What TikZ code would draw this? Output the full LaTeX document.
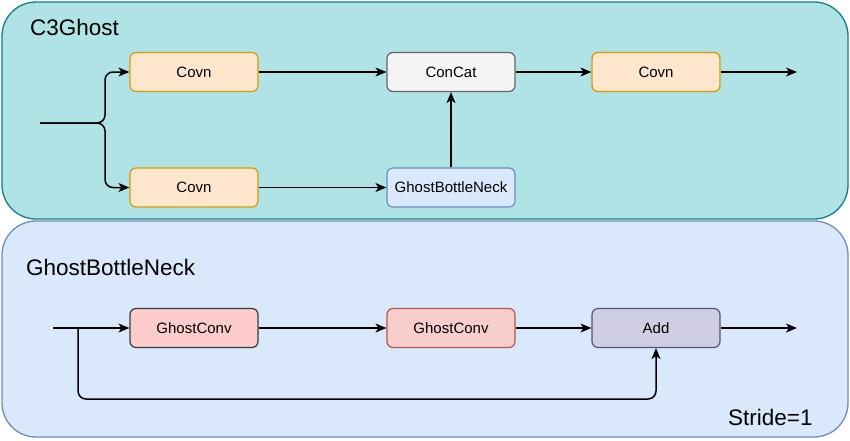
\documentclass[tikz,border=0pt]{standalone}
\usepackage{fontspec}
\setmainfont{Liberation Sans}
\usetikzlibrary{arrows.meta}
\definecolor{tealfill}{HTML}{B0E3E6}
\definecolor{tealline}{HTML}{0E8088}
\definecolor{bluefill}{HTML}{DAE8FC}
\definecolor{blueline}{HTML}{6C8EBF}
\definecolor{orfill}{HTML}{FFE6CC}
\definecolor{orline}{HTML}{D79B00}
\definecolor{grfill}{HTML}{F5F5F5}
\definecolor{grline}{HTML}{666666}
\definecolor{rdfill}{HTML}{FFCCCC}
\definecolor{rdline}{HTML}{36393D}
\definecolor{rd2fill}{HTML}{F8CECC}
\definecolor{rd2line}{HTML}{B85450}
\definecolor{pufill}{HTML}{D0CEE2}
\definecolor{puline}{HTML}{56517E}
\tikzset{
  x=1pt,y=-1pt,
  container/.style={rounded corners=34pt,line width=1.3pt},
  blk/.style={draw,rounded corners=6pt,minimum width=128pt,minimum height=39pt,inner sep=0pt,line width=1.2pt,font=\fontsize{15}{18}\selectfont},
  title/.style={anchor=west,inner sep=0pt,font=\fontsize{22.5}{27}\selectfont},
  conn/.style={line width=1.5pt,-{Stealth[length=11pt,width=9pt,inset=3pt]}}
}
\begin{document}
\begin{tikzpicture}
\useasboundingbox (0,0) rectangle (850,440);
\draw[container,fill=tealfill,draw=tealline] (2,2) rectangle (848,219);
\draw[container,fill=bluefill,draw=blueline] (2,221) rectangle (848,437);
\node[title] (t1) at (30,27) {C3Ghost};
\node[title] (t2) at (26,267) {GhostBottleNeck};
\node[title] (t3) at (728,417) {Stride=1};
% top
\node[blk,fill=orfill,draw=orline] (c1) at (194,72) {Covn};
\node[blk,fill=orfill,draw=orline] (c2) at (194,187.5) {Covn};
\node[blk,fill=grfill,draw=grline] (cc) at (451,72) {ConCat};
\node[blk,fill=bluefill,draw=blueline] (gb) at (451,187.5) {GhostBottleNeck};
\node[blk,fill=orfill,draw=orline] (c3) at (656,72) {Covn};
\coordinate (in1) at (40,123);
\coordinate (out1) at (797,72);
\coordinate (br) at (105,123);
\draw[conn,rounded corners=8pt] (in1) -- (br) -- (br |- c1) -- (c1.west);
\draw[conn,rounded corners=8pt] (in1) -- (br) -- (br |- c2) -- (c2.west);
\draw[conn] (c1) -- (cc);
\draw[conn] (c2) -- (gb);
\draw[conn] (gb) -- (cc);
\draw[conn] (cc) -- (c3);
\draw[conn] (c3) -- (out1);
% bottom
\node[blk,fill=rdfill,draw=rdline] (g1) at (194,328) {GhostConv};
\node[blk,fill=rd2fill,draw=rd2line] (g2) at (451,328) {GhostConv};
\node[blk,fill=pufill,draw=puline] (ad) at (656,328) {Add};
\coordinate (in2) at (53,328);
\coordinate (sp) at (78,328);
\coordinate (lo) at (78,399);
\coordinate (out2) at (797,328);
\draw[conn] (in2) -- (g1);
\draw[conn] (g1) -- (g2);
\draw[conn] (g2) -- (ad);
\draw[conn] (ad) -- (out2);
\draw[conn,rounded corners=8pt] (sp) -- (lo) -- (lo -| ad) -- (ad.south);
\end{tikzpicture}
\end{document}
